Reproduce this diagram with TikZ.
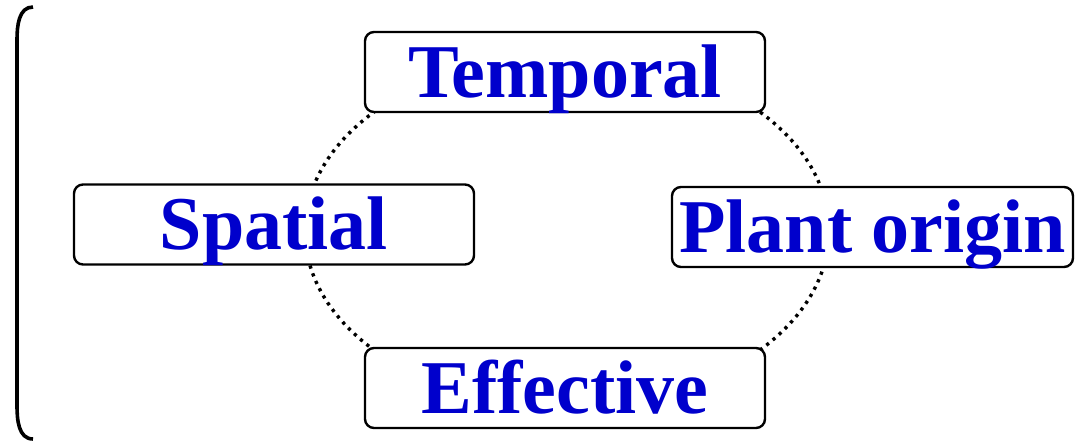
\documentclass[tikz,border=0pt]{standalone}
\usepackage{fontspec}
\setmainfont{Liberation Serif}
\definecolor{lblue}{RGB}{0,0,204}
\tikzset{
  catbox/.style={draw=black, line width=2.4pt, rounded corners=9pt, fill=white,
    minimum width=400pt, minimum height=80pt, inner sep=0pt,
    text height=65pt, text depth=15pt, text=lblue,
    font=\fontsize{76}{80}\selectfont\bfseries},
  ring/.style={draw=black, line width=3.4pt, dash pattern=on 3.2pt off 5pt},
  brace/.style={draw=black, line width=3.6pt}
}
\begin{document}
\begin{tikzpicture}[x=1pt,y=-1pt]
\useasboundingbox (0,0) rectangle (1076,442);
\coordinate (ctr) at (567,231);
\draw[ring] (ctr) ellipse [x radius=262pt, y radius=176pt];
\node[catbox] (T) at (565,72) {Temporal};
\node[catbox] (S) at (274,224.5) {Spatial};
\node[catbox, minimum width=401pt] (P) at (872.5,227) {Plant origin};
\node[catbox] (E) at (565,388) {Effective};
\coordinate (b1) at (33,7);
\coordinate (b2) at (17,40);
\coordinate (b3) at (17,405);
\coordinate (b4) at (33,439);
\draw[brace] (b1) to[out=180,in=90] (b2) -- (b3) to[out=-90,in=180] (b4);
\end{tikzpicture}
\end{document}
